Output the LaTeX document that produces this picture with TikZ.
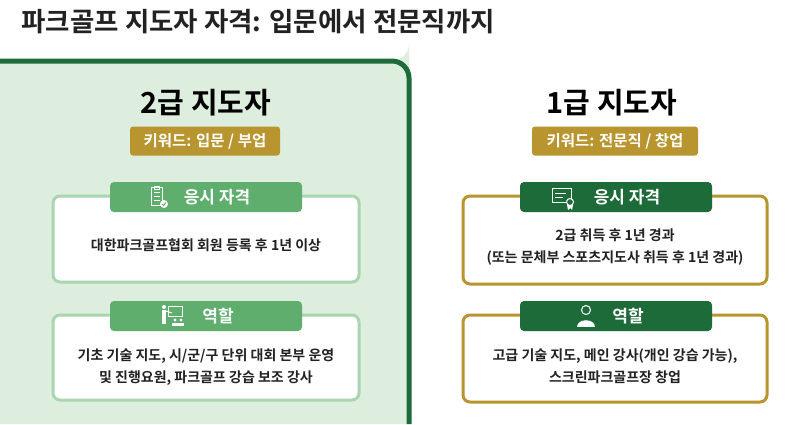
\documentclass[tikz,border=0pt]{standalone}
\usepackage{fontspec}
\setmainfont{Noto Sans CJK KR}[BoldFont={* Bold}]
\newfontfamily\kr{Noto Sans CJK KR Bold}
\definecolor{dg}{HTML}{1E6B3A}
\definecolor{lg}{HTML}{DDEEDF}
\definecolor{mg}{HTML}{5FAE6E}
\definecolor{bg}{HTML}{A9D6B0}
\definecolor{gold}{HTML}{B8952E}
\definecolor{tx}{HTML}{222222}
\begin{document}
\begin{tikzpicture}[x=1pt,y=-1pt,
  tab/.style={rounded corners=4pt,text=white,font=\kr\fontsize{17}{17}\selectfont},
  badge/.style={fill=gold,rounded corners=3pt,text=white,font=\kr\fontsize{15.5}{15.5}\selectfont},
  body/.style={align=center,text=tx,font=\kr\fontsize{14}{21.5}\selectfont},
  head/.style={text=black,font=\kr\fontsize{29}{29}\selectfont}]
\useasboundingbox (0,0) rectangle (800,424);
\fill[white] (0,0) rectangle (800,424);
\node[anchor=west,text=tx,font=\kr\fontsize{26.5}{26.5}\selectfont] (title) at (18,22) {파크골프 지도자 자격: 입문에서 전문직까지};
% left panel
\fill[lg] (0,61) -- (392,61) arc[start angle=90,end angle=0,radius=17] -- (409,424) -- (0,424) -- cycle;
\draw[dg,line width=5pt] (0,61) -- (392,61) arc[start angle=-90,end angle=0,radius=17] -- (409,424);
\node[head] (h2) at (206,103) {2급 지도자};
\node[badge,minimum width=150pt,minimum height=29pt] (k2) at (205,141) {키워드: 입문 / 부업};
\draw[bg,line width=3pt,fill=white,rounded corners=7pt] (53,196) rectangle (359,282);
\node[body] (t2a) at (206,245) {대한파크골프협회 회원 등록 후 1년 이상};
\node[tab,fill=mg,minimum width=192pt,minimum height=30pt] (a2) at (206,197) {\hspace{22pt}응시 자격};
\draw[bg,line width=3pt,fill=white,rounded corners=7pt] (53,315) rectangle (359,400);
\node[body] (t2b) at (206,367) {기초 기술 지도, 시/군/구 단위 대회 본부 운영\\및 진행요원, 파크골프 강습 보조 강사};
\node[tab,fill=mg,minimum width=192pt,minimum height=30pt] (b2) at (206,316) {\hspace{24pt}역할};
% icons left
\begin{scope}[white,line width=1pt]
\draw (151,187) rectangle (162,205); \draw (154,186) rectangle (159,189);
\foreach \y in {192,196,200} \draw (153.5,\y) -- (159.5,\y);
\fill[white] (164,204) circle (4); \draw[mg,line width=1pt] (162,204) -- (163.5,205.5) -- (166,202.5);
\fill (164,307) circle (2); \fill (162,310) rectangle (166,324);
\draw (168,306) rectangle (182,316); \draw (166,311) -- (172,313);
\fill (175,320) circle (1.6); \fill (181,320) circle (1.6);
\fill (172,323) rectangle (178,326); \fill (178,323) rectangle (184,326);
\end{scope}
% right
\node[head] (h1) at (612,103) {1급 지도자};
\node[badge,minimum width=166pt,minimum height=29pt] (k1) at (615,141) {키워드: 전문직 / 창업};
\draw[gold,line width=3pt,fill=white,rounded corners=7pt] (463,196) rectangle (767,284);
\node[body] (t1a) at (615,247) {2급 취득 후 1년 경과\\(또는 문체부 스포츠지도사 취득 후 1년 경과)};
\node[tab,fill=dg,minimum width=192pt,minimum height=30pt] (a1) at (616,197) {\hspace{22pt}응시 자격};
\draw[gold,line width=3pt,fill=white,rounded corners=7pt] (463,315) rectangle (767,402);
\node[body] (t1b) at (615,366) {고급 기술 지도, 메인 강사(개인 강습 가능),\\스크린파크골프장 창업};
\node[tab,fill=dg,minimum width=192pt,minimum height=30pt] (b1) at (616,316) {\hspace{24pt}역할};
\begin{scope}[white,line width=1pt]
\draw (552,188) rectangle (571,202); \draw (555,193) -- (566,193); \draw (555,197) -- (563,197);
\draw[fill=dg] (570,202) circle (3.5);
\fill (567,205) -- (568,210) -- (570,208) -- (572,210) -- (573,205) -- cycle;
\draw (586,310) circle (4.5);
\fill (577,327) .. controls (577,318) and (595,318) .. (595,327) -- cycle;
\end{scope}
\end{tikzpicture}
\end{document}
